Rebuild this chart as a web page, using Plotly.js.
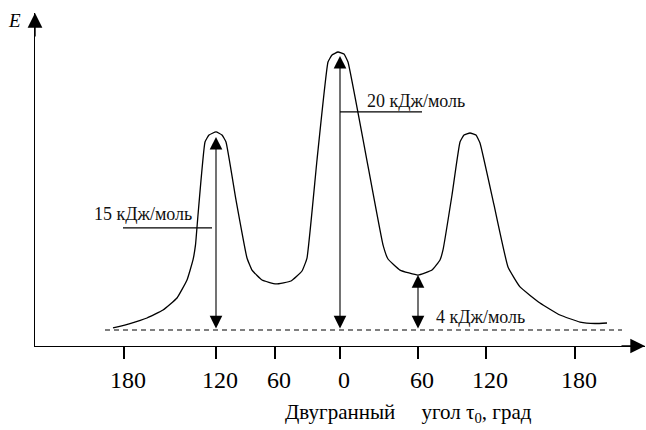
<!DOCTYPE html>
<html>
<head>
<meta charset="utf-8">
<script src="https://cdn.plot.ly/plotly-3.0.1.min.js"></script>
<style>html,body{margin:0;padding:0;background:#fff;}#chart{width:646px;height:430px;}</style>
</head>
<body>
<div id="chart"></div>
<script>
// Schematic position along the dihedral-angle axis (0 = eclipsed conformation)
var curveX = [-227,-210,-193,-177,-163,-153,-147,-144.5,-142,-135,-131,-124,-118,-114,-104,-93,-88,-78,-64,-49,-38,-33,-23,-12,-8,-2,4,8,25,43,48,60,78,92,100,103,112,120,124,130,136,140,154,168,180,200,220,240,255,267];
// Energy, kJ/mol
var curveE = [0.15,0.48,0.89,1.48,2.37,3.70,5.19,6.30,8.52,13.93,14.44,14.67,14.44,13.93,9.63,5.33,4.44,3.70,3.41,3.63,4.37,5.33,12.59,19.85,20.37,20.59,20.44,19.85,13.33,6.30,5.26,4.44,4.07,4.44,5.19,5.93,10.0,13.93,14.44,14.59,14.44,13.85,9.26,4.67,3.19,2.0,1.11,0.59,0.48,0.52];

var tickPos = [-216,-124,-65,0,78,146,235];
var tickText = ["180","120","60","0","60","120","180"];

var baseX = [-235, 282];
var baseE = [0, 0];

var barrierX = [-124, 0, 78];
var barrierE = [14.3, 20.3, 4.07];
var barrierLabels = ["15 кДж/моль", "20 кДж/моль", "4 кДж/моль"];
var labelX = [-248, 25, 94];
var labelE = [8.56, 16.96, 1.0];
var leaderX0 = [-217, 0];
var leaderX1 = [-128, 82];
var leaderE = [7.56, 16.15];

var serif = "Liberation Serif, Times New Roman, serif";

var traces = [
  {x: curveX, y: curveE, mode: 'lines', line: {color: '#000', width: 1.3, shape: 'spline', smoothing: 0.35}, hoverinfo: 'skip'},
  {x: baseX, y: baseE, mode: 'lines', line: {color: '#000', width: 1.2, dash: '5px,4px'}, hoverinfo: 'skip'}
];

var annotations = [];
for (var i = 0; i < barrierX.length; i++) {
  annotations.push({x: barrierX[i], y: barrierE[i], ax: barrierX[i], ay: 0, xref: 'x', yref: 'y', axref: 'x', ayref: 'y',
    text: '', showarrow: true, arrowside: 'end+start', arrowhead: 2, startarrowhead: 2, arrowsize: 2.3, startarrowsize: 2.3, arrowwidth: 1.1, arrowcolor: '#000'});
}
for (var j = 0; j < barrierLabels.length; j++) {
  annotations.push({x: labelX[j], y: labelE[j], xref: 'x', yref: 'y', text: barrierLabels[j], showarrow: false,
    xanchor: 'left', yanchor: 'middle', font: {family: serif, size: 18, color: '#111'}});
}
// axis arrowheads
annotations.push({x: 0, y: 1, xref: 'paper', yref: 'paper', ax: 0, ay: 25, text: '', showarrow: true, arrowhead: 2, arrowsize: 2.1, arrowwidth: 1.4, arrowcolor: '#000'});
annotations.push({x: 1, y: 0, xref: 'paper', yref: 'paper', ax: -25, ay: 0, text: '', showarrow: true, arrowhead: 2, arrowsize: 2.1, arrowwidth: 1.4, arrowcolor: '#000'});
// axis names
annotations.push({x: -0.033, y: 0.976, xref: 'paper', yref: 'paper', text: '<i>E</i>', showarrow: false, xanchor: 'center', yanchor: 'middle', font: {family: serif, size: 19, color: '#000'}});
annotations.push({x: 68, y: -0.2, xref: 'x', yref: 'paper', text: 'Двугранный\u00a0\u00a0\u00a0\u00a0 угол τ<sub>0</sub>, град', showarrow: false, xanchor: 'center', yanchor: 'middle', font: {family: serif, size: 21, color: '#000'}});

var shapes = [];
for (var k = 0; k < leaderX0.length; k++) {
  shapes.push({type: 'line', xref: 'x', yref: 'y', x0: leaderX0[k], x1: leaderX1[k], y0: leaderE[k], y1: leaderE[k], line: {color: '#000', width: 1.2}});
}

var layout = {
  width: 646, height: 430,
  margin: {l: 35, r: 1, t: 13, b: 84},
  paper_bgcolor: '#fff', plot_bgcolor: '#fff',
  showlegend: false, hovermode: false,
  xaxis: {range: [-305, 305], showgrid: false, zeroline: false, showline: true, linecolor: '#000', linewidth: 1.4,
    ticks: 'outside', ticklen: 12, tickwidth: 1.3, tickcolor: '#000', tickvals: tickPos, ticktext: tickText,
    ticklabelshift: 4, tickfont: {family: serif, size: 24, color: '#000'}, fixedrange: true},
  yaxis: {range: [-1.185, 23.48], showgrid: false, zeroline: false, showline: true, linecolor: '#000', linewidth: 1.4,
    ticks: '', showticklabels: false, fixedrange: true},
  annotations: annotations,
  shapes: shapes
};

Plotly.newPlot('chart', traces, layout, {staticPlot: true, displayModeBar: false});
</script>
</body>
</html>
